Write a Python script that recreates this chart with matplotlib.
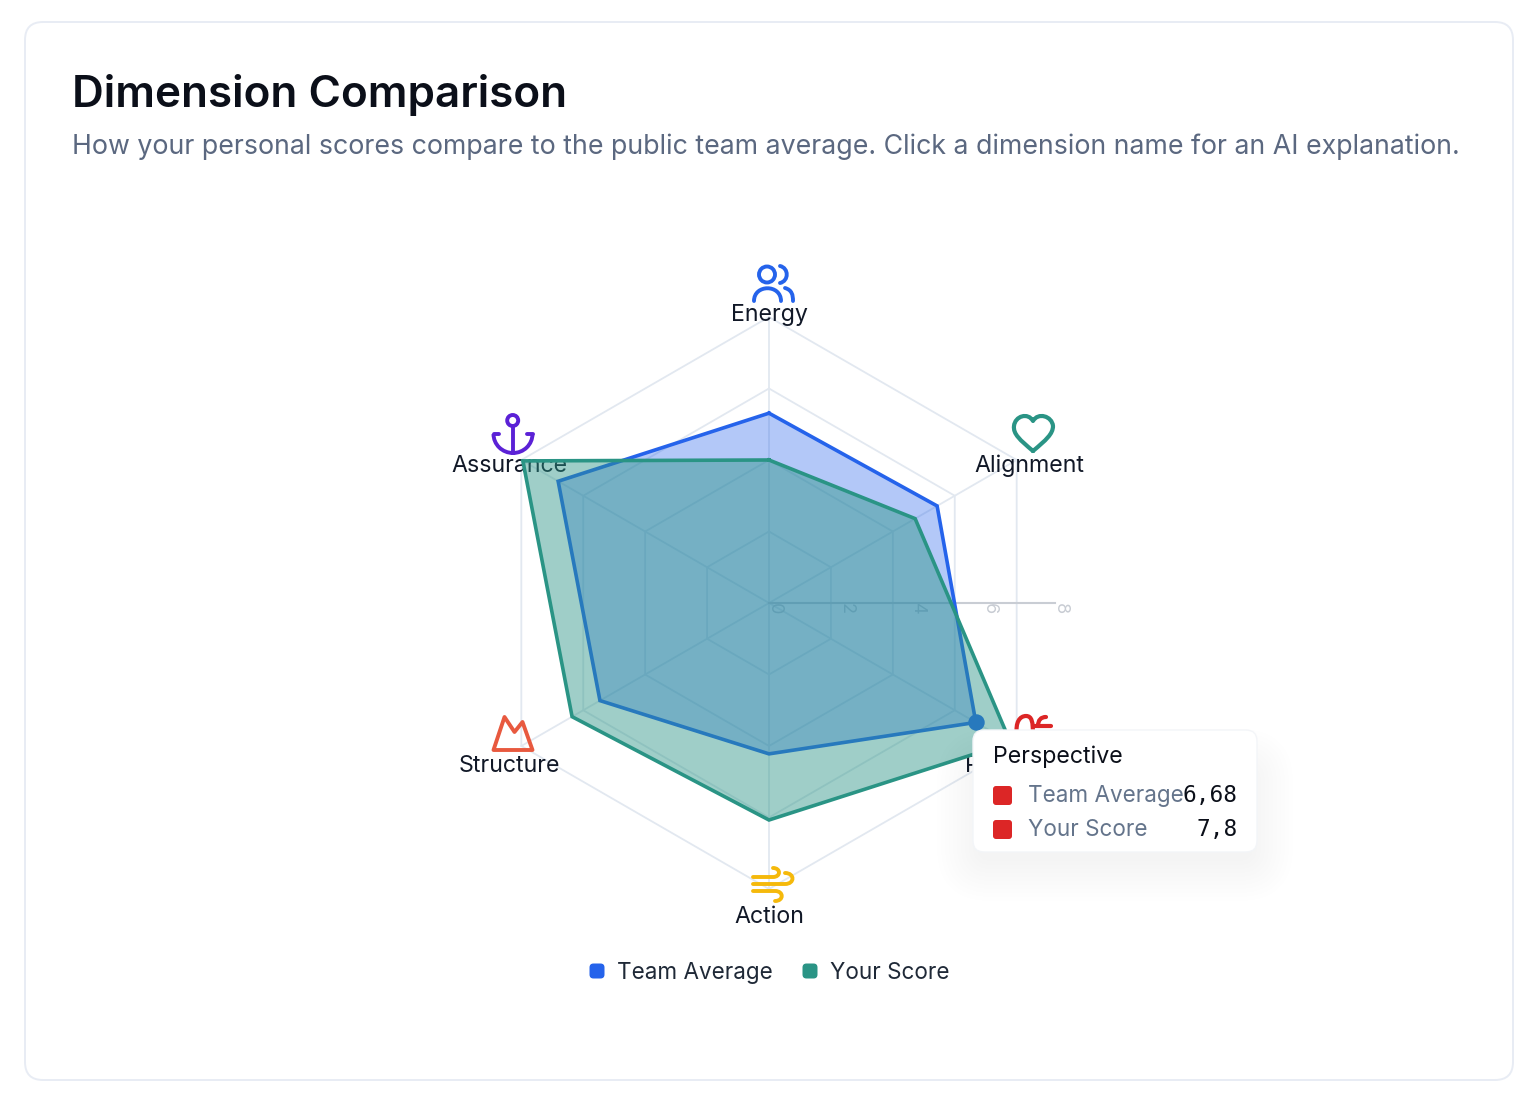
import numpy as np
import matplotlib
matplotlib.use("Agg")
import matplotlib.pyplot as plt
from matplotlib.patches import FancyBboxPatch, Circle, Arc, PathPatch
from matplotlib.path import Path

dimensions = ["Energy", "Alignment", "Perspective", "Action", "Structure", "Assurance"]
team_average = [5.31, 5.43, 6.68, 4.22, 5.46, 6.81]
your_score = [4.0, 4.72, 7.8, 6.07, 6.36, 7.95]
ring_values = [2, 4, 6, 8]
tick_values = [0, 2, 4, 6, 8]
max_value = 8

BLUE = "#2563eb"
TEAL = "#2a9485"
GRID = "#e2e8f0"
W, H = 1536, 1098
CX, CY, RADIUS = 769, 603, 286

plt.rcParams["font.family"] = ["Inter", "DejaVu Sans"]

fig = plt.figure(figsize=(W / 100, H / 100), dpi=100, facecolor="white")


def pixel_axes(zorder):
    # overlay in image pixels, y going down
    a = fig.add_axes([0, 0, 1, 1], zorder=zorder)
    a.set_xlim(0, W)
    a.set_ylim(H, 0)
    a.axis("off")
    a.patch.set_alpha(0)
    return a


def radar_axes(zorder):
    a = fig.add_axes([(CX - RADIUS) / W, 1 - (CY + RADIUS) / H, 2 * RADIUS / W, 2 * RADIUS / H],
                     projection="polar", zorder=zorder)
    a.set_theta_zero_location("N")
    a.set_theta_direction(-1)
    a.set_ylim(0, max_value)
    a.set_xticks([])
    a.set_yticks([])
    a.grid(False)
    a.spines["polar"].set_visible(False)
    a.patch.set_alpha(0)
    return a


def round_box(a, x0, y0, x1, y1, r, **kw):
    p = FancyBboxPatch((x0, y0), x1 - x0, y1 - y0, boxstyle=f"round,pad=0,rounding_size={r}", **kw)
    a.add_patch(p)
    return p


def stroke(a, verts, codes, color, lw=2.8):
    a.add_patch(PathPatch(Path(verts, codes), fill=False, edgecolor=color, lw=lw, capstyle="round", joinstyle="round"))


M, L, C = Path.MOVETO, Path.LINETO, Path.CURVE4

# card and heading
bg = pixel_axes(0)
round_box(bg, 25, 22, 1513, 1080, 18, facecolor="white", edgecolor="#e8ecf4", lw=1.4)
bg.text(72, 107.5, "Dimension Comparison", fontsize=31.7, fontweight="semibold", color="#0b0f19")
bg.text(72, 154, "How your personal scores compare to the public team average. Click a dimension name for an AI explanation.",
        fontsize=19.25, color="#5b6880")

angles = np.deg2rad(np.arange(len(dimensions)) * 360 / len(dimensions))
closed = np.append(angles, angles[0])

# grid goes under the labels, the filled areas over them
grid_ax = radar_axes(1)
for rv in ring_values:
    grid_ax.plot(closed, [rv] * len(closed), color=GRID, lw=1.3, zorder=1, clip_on=False)
for an in angles:
    grid_ax.plot([an, an], [0, max_value], color=GRID, lw=1.3, zorder=1, clip_on=False)

# value axis points to the right, labels turned with it
grid_ax.plot([np.pi / 2, np.pi / 2], [0, max_value], color="#c9cdd4", lw=1.5, zorder=1.5, clip_on=False)
for tv in tick_values:
    grid_ax.annotate(str(tv), (np.pi / 2, tv), xytext=(4, -4), textcoords="offset points", rotation=-90,
                     fontsize=13, color="#c8ccd3", ha="center", va="center", zorder=1.5, annotation_clip=False)

lab = pixel_axes(2)
label_pos = [(769, 321), (1029.5, 472), (1029.5, 772), (769, 923), (509, 772), (509, 472)]
for name, (lx, ly) in zip(dimensions, label_pos):
    lab.text(lx, ly, name, fontsize=16.7, color="#111827", ha="center")

# icons
c = "#2563eb"
lab.add_patch(Circle((767, 274.5), 8, fill=False, edgecolor=c, lw=2.8))
stroke(lab, [(780, 266), (789, 268), (789, 281), (780, 283)], [M, C, C, C], c)
stroke(lab, [(754, 301), (754, 284), (781, 284), (781, 301)], [M, C, C, C], c)
stroke(lab, [(785, 288), (792, 290), (793, 295), (793, 301)], [M, C, C, C], c)

c = "#5b21d6"
lab.add_patch(Circle((512.7, 420.5), 5.5, fill=False, edgecolor=c, lw=2.8))
lab.plot([512.7, 512.7], [426, 453], color=c, lw=2.8)
lab.add_patch(Arc((513, 434), 39, 38, theta1=0, theta2=180, edgecolor=c, lw=2.8))
lab.plot([493.5, 499], [434, 434], color=c, lw=2.8, solid_capstyle="round")
lab.plot([527, 532.5], [434, 434], color=c, lw=2.8, solid_capstyle="round")

c = "#e8593f"
stroke(lab, [(493.5, 750), (504.5, 717), (514.5, 732), (522.5, 722), (532.5, 750), (493.5, 750)],
       [M, L, L, L, L, Path.CLOSEPOLY], c, lw=2.8)

c = "#f5b90b"
stroke(lab, [(753, 877), (773, 877), (781, 877), (781, 868), (773, 868)], [M, L, C, C, C], c)
stroke(lab, [(753, 884), (785, 884), (795, 884), (795, 873), (785, 873)], [M, L, C, C, C], c)
stroke(lab, [(753, 891), (775, 891), (784, 891), (784, 901), (775, 901)], [M, L, C, C, C], c)

c = "#2a9485"
stroke(lab, [(1033, 451), (1020, 440), (1013, 434), (1014, 426), (1015, 416), (1028, 412), (1033, 421),
             (1038, 412), (1052, 416), (1053, 426), (1053, 434), (1046, 440), (1033, 451)],
       [M, C, C, C, C, C, C, C, C, C, C, C, C], c, lw=3)

c = "#dc2626"
stroke(lab, [(1017, 735), (1015, 722), (1020, 716), (1026, 716), (1032, 716), (1033, 722), (1033, 735)],
       [M, C, C, C, C, C, C], c, lw=3)
stroke(lab, [(1033, 726), (1051, 726)], [M, L], c, lw=3)
stroke(lab, [(1038, 726), (1038, 720), (1041, 717), (1046, 717)], [M, C, C, C], c, lw=3)

# the two series
ax = radar_axes(3)
team_closed = team_average + team_average[:1]
your_closed = your_score + your_score[:1]
ax.fill(closed, team_closed, color=BLUE, alpha=0.35, lw=0, zorder=2)
ax.plot(closed, team_closed, color=BLUE, lw=2.6, zorder=2.1, clip_on=False, solid_joinstyle="miter")
ax.scatter(angles[2], team_average[2], s=140, color=BLUE, lw=0, zorder=2.2, clip_on=False)
ax.fill(closed, your_closed, color=TEAL, alpha=0.45, lw=0, zorder=3)
ax.plot(closed, your_closed, color=TEAL, lw=2.6, zorder=3.1, clip_on=False, solid_joinstyle="miter")

# legend drawn by hand to match the html one
top = pixel_axes(4)
for x_mark, x_text, name, col in [(597, 617, "Team Average", BLUE), (810, 830, "Your Score", TEAL)]:
    round_box(top, x_mark - 7.5, 963.5, x_mark + 7.5, 978.5, 4, facecolor=col, lw=0)
    top.text(x_text, 979, name, fontsize=16.2, color="#1f2937")

# tooltip with soft shadow, few layers because very low alpha rounds away to nothing
for i in range(11):
    pad = 44 - i * 4
    round_box(top, 973 - pad + 8, 765 - pad + 8, 1257 + pad - 8, 865 + pad - 8, 10 + pad, facecolor="#334466",
              alpha=0.004, lw=0)
round_box(top, 973, 730, 1257, 852, 11, facecolor="white", edgecolor="#f3f5f8", lw=1)
top.text(993, 763, dimensions[2], fontsize=16.7, color="#0b0f19")
rows = [("Team Average", team_average[2], 802), ("Your Score", your_score[2], 836)]
for name, val, base in rows:
    round_box(top, 993, base - 16, 1012, base + 3, 3, facecolor="#dc2626", lw=0)
    top.text(1028, base, name, fontsize=16.2, color="#64748b")
    top.text(1238, base, str(val).replace(".", ","), fontsize=16.4, color="#0b0f19", ha="right",
             family=["DejaVu Sans Mono"])

fig.savefig("out.png", dpi=100, facecolor="white")
